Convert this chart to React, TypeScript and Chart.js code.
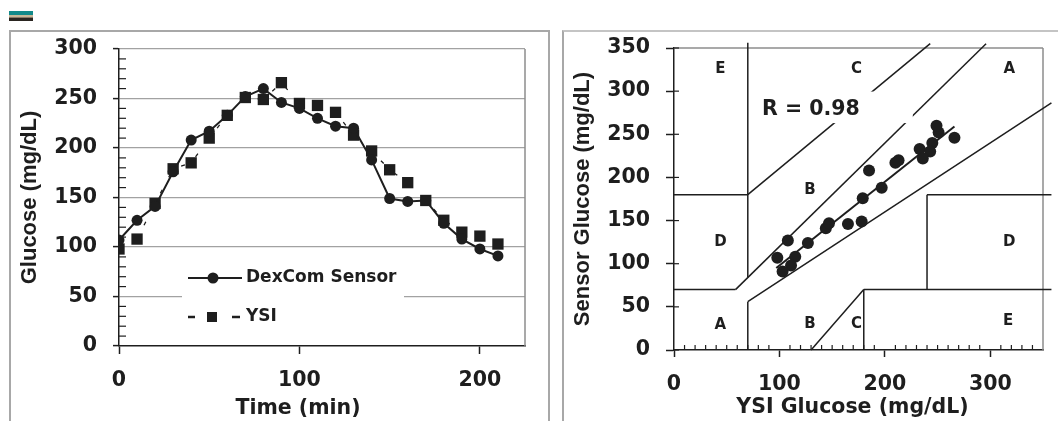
import React, { useEffect, useRef } from "react";
import { Chart, registerables } from "chart.js";

Chart.register(...registerables);

// ---------------- data ----------------
const timeMin = [0, 10, 20, 30, 40, 50, 60, 70, 80, 90, 100, 110, 120, 130, 140, 150, 160, 170, 180, 190, 200, 210];
const sensorGlucose = [107, 127, 141, 176, 208, 217, 233, 252, 260, 246, 240, 230, 222, 220, 188, 149, 146, 147, 124, 108, 98, 91];
const ysiGlucose = [98, 108, 144, 179, 185, 210, 233, 251, 249, 266, 245, 243, 236, 213, 197, 178, 165, 147, 127, 115, 111, 103];

const timeTicks = [0, 100, 200];
const glucoseTicks = [0, 50, 100, 150, 200, 250, 300];
const glucoseMinorTicks = [10, 20, 30, 40, 60, 70, 80, 90, 110, 120, 130, 140, 160, 170, 180, 190, 210, 220, 230, 240, 260, 270, 280, 290];

const ysiAxisTicks = [0, 100, 200, 300];
const ysiAxisMinorTicks = [10, 20, 30, 40, 50, 60, 70, 80, 90, 110, 120, 130, 140, 150, 160, 170, 180, 190, 210, 220, 230, 240, 250, 260, 270, 280, 290, 310, 320, 330, 340];
const sensorAxisTicks = [0, 50, 100, 150, 200, 250, 300, 350];

// Clarke error grid boundaries: [x1, y1, x2, y2] in mg/dL
const clarkeSegments: number[][] = [
  [0, 70, 58.33, 70],
  [58.33, 70, 296, 355],
  [70, 84, 70, 356],
  [0, 180, 70, 180],
  [70, 180, 243, 355],
  [70, 0, 70, 56],
  [70, 56, 358, 286.4],
  [180, 0, 180, 70],
  [180, 70, 358, 70],
  [240, 70, 240, 180],
  [240, 180, 358, 180],
  [130, 0, 180, 70],
];
const zoneLetters = ["E", "C", "A", "B", "D", "D", "A", "B", "C", "E"];
const zoneLetterX = [44, 173, 318, 129, 44, 318, 44, 129, 173, 317];
const zoneLetterY = [325, 325, 325, 185, 124.5, 124.5, 29, 30, 30, 34];

const regressionX = [97, 266];
const regressionY = [95, 259];
const correlationText = "R = 0.98";

const legendLabels = ["DexCom Sensor", "YSI"];

// ---------------- styles ----------------
const INK = "#1e1e1e";
const GRID = "#a2a2a2";
const FRAME = "#8c8c8c";
const TICK_FONT = { family: "'DejaVu Sans', sans-serif", size: 20.5, weight: "bold" as const };
const HFONT = "bold 20.5px 'DejaVu Sans', sans-serif";
const VFONT = "bold 22px 'Liberation Sans', Arial, sans-serif";

function line(ctx: CanvasRenderingContext2D, x1: number, y1: number, x2: number, y2: number, color: string, w: number) {
  ctx.save();
  ctx.strokeStyle = color;
  ctx.lineWidth = w;
  ctx.beginPath();
  ctx.moveTo(x1, y1);
  ctx.lineTo(x2, y2);
  ctx.stroke();
  ctx.restore();
}

function text(ctx: CanvasRenderingContext2D, s: string, x: number, y: number, font: string, align: CanvasTextAlign, baseline: CanvasTextBaseline, rot = 0) {
  ctx.save();
  ctx.font = font;
  ctx.fillStyle = INK;
  ctx.textAlign = align;
  ctx.textBaseline = baseline;
  ctx.translate(x, y);
  if (rot) ctx.rotate(rot);
  ctx.fillText(s, 0, 0);
  ctx.restore();
}

// ---------------- left chart ----------------
const leftPlugin = {
  id: "leftDecor",
  beforeDatasetsDraw(chart: any) {
    const ctx = chart.ctx as CanvasRenderingContext2D;
    const a = chart.chartArea;
    const y = chart.scales.y;
    // minor ticks inside
    glucoseMinorTicks.forEach((v) => {
      const py = y.getPixelForValue(v);
      line(ctx, a.left, py, a.left + 7, py, INK, 1.2);
    });
    // right frame
    line(ctx, a.right, a.top, a.right, a.bottom, FRAME, 1.5);
    // legend
    ctx.save();
    ctx.fillStyle = "#ffffff";
    ctx.fillRect(182, 262, 222, 68);
    ctx.restore();
    line(ctx, 188, 278, 242, 278, INK, 2);
    ctx.save();
    ctx.fillStyle = INK;
    ctx.beginPath();
    ctx.arc(213, 278, 5.5, 0, Math.PI * 2);
    ctx.fill();
    ctx.fillRect(207, 312, 10, 10);
    ctx.restore();
    line(ctx, 188, 317, 195, 317, INK, 2.5);
    line(ctx, 232, 317, 240, 317, INK, 2.5);
    text(ctx, legendLabels[0], 246, 278, "bold 17px 'DejaVu Sans', sans-serif", "left", "middle");
    text(ctx, legendLabels[1], 246, 317, "bold 17px 'DejaVu Sans', sans-serif", "left", "middle");
  },
  afterDraw(chart: any) {
    const ctx = chart.ctx as CanvasRenderingContext2D;
    text(ctx, "Glucose (mg/dL)", 30, 197.5, VFONT, "center", "middle", -Math.PI / 2);
    text(ctx, "Time (min)", 298, 414, HFONT, "center", "alphabetic");
  },
};

function leftConfig(): any {
  return {
    type: "line",
    data: {
      datasets: [
        {
          label: legendLabels[0],
          data: timeMin.map((t, i) => ({ x: t, y: sensorGlucose[i] })),
          borderColor: INK,
          backgroundColor: INK,
          borderWidth: 2,
          pointStyle: "circle",
          pointRadius: 5.5,
          pointBackgroundColor: INK,
          pointBorderWidth: 0,
          tension: 0,
          fill: false,
        },
        {
          label: legendLabels[1],
          data: timeMin.map((t, i) => ({ x: t, y: ysiGlucose[i] })),
          borderColor: INK,
          backgroundColor: INK,
          borderWidth: 1.3,
          borderDash: [4, 14],
          pointStyle: "rect",
          pointRadius: 8,
          pointBackgroundColor: INK,
          pointBorderWidth: 0,
          tension: 0,
          fill: false,
        },
      ],
    },
    options: {
      animation: false,
      responsive: false,
      devicePixelRatio: 1,
      layout: { padding: { top: 49, right: 31, left: 0, bottom: 0 } },
      plugins: { legend: { display: false }, tooltip: { enabled: false } },
      scales: {
        x: {
          type: "linear",
          position: "bottom",
          min: 0,
          max: 225,
          afterBuildTicks: (s: any) => { s.ticks = timeTicks.map((v) => ({ value: v })); },
          afterFit: (s: any) => { s.height = 75; },
          grid: { drawOnChartArea: false, drawTicks: true, tickLength: 8, tickColor: INK, tickWidth: 1.5 },
          border: { display: true, color: INK, width: 1.5 },
          ticks: { font: TICK_FONT, color: INK, padding: 14.7, maxRotation: 0, autoSkip: false },
        },
        y: {
          type: "linear",
          position: "left",
          min: 0,
          max: 300,
          afterBuildTicks: (s: any) => { s.ticks = glucoseTicks.map((v) => ({ value: v })); },
          afterFit: (s: any) => { s.width = 119; },
          grid: {
            color: (c: any) => (c.tick && c.tick.value > 0 ? GRID : "rgba(0,0,0,0)"),
            lineWidth: 1.2,
            drawTicks: true,
            tickLength: 6,
            tickColor: INK,
            tickWidth: 1.5,
          },
          border: { display: true, color: INK, width: 1.5 },
          ticks: { font: TICK_FONT, color: INK, padding: 16, autoSkip: false },
        },
      },
    },
    plugins: [leftPlugin],
  };
}

// ---------------- right chart ----------------
const rightPlugin = {
  id: "rightDecor",
  beforeDatasetsDraw(chart: any) {
    const ctx = chart.ctx as CanvasRenderingContext2D;
    const a = chart.chartArea;
    line(ctx, a.left, a.top, a.right, a.top, FRAME, 1.5);
    line(ctx, a.right, a.top, a.right, a.bottom, FRAME, 1.5);
  },
  afterDatasetsDraw(chart: any) {
    const ctx = chart.ctx as CanvasRenderingContext2D;
    const a = chart.chartArea;
    const x = chart.scales.x;
    const y = chart.scales.y;
    // white box behind the correlation label
    const bx1 = x.getPixelForValue(74);
    const bx2 = x.getPixelForValue(226.5);
    const by1 = y.getPixelForValue(299.5);
    const by2 = y.getPixelForValue(263);
    ctx.save();
    ctx.fillStyle = "#ffffff";
    ctx.fillRect(bx1, by1, bx2 - bx1, by2 - by1);
    ctx.restore();
    text(ctx, correlationText, x.getPixelForValue(83.5), y.getPixelForValue(279), "bold 20.5px 'DejaVu Sans', sans-serif", "left", "middle");
    // zone letters
    zoneLetters.forEach((s, i) => {
      text(ctx, s, x.getPixelForValue(zoneLetterX[i]), y.getPixelForValue(zoneLetterY[i]), "bold 15px 'DejaVu Sans', sans-serif", "center", "middle");
    });
    // minor x ticks (inside)
    ysiAxisMinorTicks.forEach((v) => {
      const px = x.getPixelForValue(v);
      line(ctx, px, a.bottom, px, a.bottom - 5, INK, 1.2);
    });
    // inner part of y ticks
    sensorAxisTicks.forEach((v) => {
      const py = y.getPixelForValue(v);
      line(ctx, a.left, py, a.left + 5, py, INK, 1.2);
    });
  },
  afterDraw(chart: any) {
    const ctx = chart.ctx as CanvasRenderingContext2D;
    text(ctx, "Sensor Glucose (mg/dL)", 27, 199, VFONT, "center", "middle", -Math.PI / 2);
    text(ctx, "YSI Glucose (mg/dL)", 296.5, 413, HFONT, "center", "alphabetic");
  },
};

function rightConfig(): any {
  const boundary = clarkeSegments.map((s) => ({
    data: [{ x: s[0], y: s[1] }, { x: s[2], y: s[3] }],
    showLine: true,
    borderColor: INK,
    borderWidth: 1.5,
    pointRadius: 0,
    clip: false,
    fill: false,
  }));
  return {
    type: "scatter",
    data: {
      datasets: [
        {
          label: "Sensor vs YSI",
          data: ysiGlucose.map((v, i) => ({ x: v, y: sensorGlucose[i] })),
          pointStyle: "circle",
          pointRadius: 6,
          pointBackgroundColor: INK,
          pointBorderWidth: 0,
          showLine: false,
        },
        {
          label: "Regression",
          data: regressionX.map((v, i) => ({ x: v, y: regressionY[i] })),
          showLine: true,
          borderColor: INK,
          borderWidth: 2,
          pointRadius: 0,
        },
        ...boundary,
      ],
    },
    options: {
      animation: false,
      responsive: false,
      devicePixelRatio: 1,
      layout: { padding: { top: 48, right: 15, left: 0, bottom: 0 } },
      plugins: { legend: { display: false }, tooltip: { enabled: false } },
      scales: {
        x: {
          type: "linear",
          position: "bottom",
          min: 0,
          max: 350,
          afterBuildTicks: (s: any) => { s.ticks = ysiAxisTicks.map((v) => ({ value: v })); },
          afterFit: (s: any) => { s.height = 71; },
          grid: { drawOnChartArea: false, drawTicks: true, tickLength: 7, tickColor: INK, tickWidth: 1.5 },
          border: { display: true, color: INK, width: 1.5 },
          ticks: { font: TICK_FONT, color: INK, padding: 15.7, maxRotation: 0, autoSkip: false },
        },
        y: {
          type: "linear",
          position: "left",
          min: 0,
          max: 350,
          afterBuildTicks: (s: any) => { s.ticks = sensorAxisTicks.map((v) => ({ value: v })); },
          afterFit: (s: any) => { s.width = 118; },
          grid: { drawOnChartArea: false, drawTicks: true, tickLength: 8, tickColor: INK, tickWidth: 1.5 },
          border: { display: true, color: INK, width: 1.5 },
          ticks: { font: TICK_FONT, color: INK, padding: 16, autoSkip: false },
        },
      },
    },
    plugins: [rightPlugin],
  };
}

export default function App() {
  const leftRef = useRef<HTMLCanvasElement>(null);
  const rightRef = useRef<HTMLCanvasElement>(null);

  useEffect(() => {
    const c1 = new Chart(leftRef.current as HTMLCanvasElement, leftConfig());
    const c2 = new Chart(rightRef.current as HTMLCanvasElement, rightConfig());
    return () => {
      c1.destroy();
      c2.destroy();
    };
  }, []);

  const abs = (l: number, t: number, w: number, h: number, extra: React.CSSProperties = {}): React.CSSProperties => ({
    position: "absolute",
    left: l,
    top: t,
    width: w,
    height: h,
    ...extra,
  });

  return (
    <div style={abs(0, 0, 1058, 421, { background: "#ffffff", overflow: "hidden" })}>
      {/* small icon */}
      <div style={abs(9, 11, 24, 4, { background: "#128a8a" })} />
      <div style={abs(9, 15, 24, 2, { background: "#c8b898" })} />
      <div style={abs(9, 17, 24, 1, { background: "#8a7a68" })} />
      <div style={abs(9, 18, 24, 3, { background: "#2a2520" })} />
      {/* panel frames */}
      <div style={abs(9, 30, 541, 400, { borderTop: "2px solid #a8a8a8", borderLeft: "2px solid #a8a8a8", borderRight: "2px solid #a8a8a8", boxSizing: "border-box" })} />
      <div style={abs(562, 30, 520, 400, { borderTop: "2px solid #c4c4c4", borderLeft: "2px solid #a8a8a8", boxSizing: "border-box" })} />
      <canvas ref={leftRef} width={556} height={421} style={abs(0, 0, 556, 421)} />
      <canvas ref={rightRef} width={502} height={421} style={abs(556, 0, 502, 421)} />
    </div>
  );
}
